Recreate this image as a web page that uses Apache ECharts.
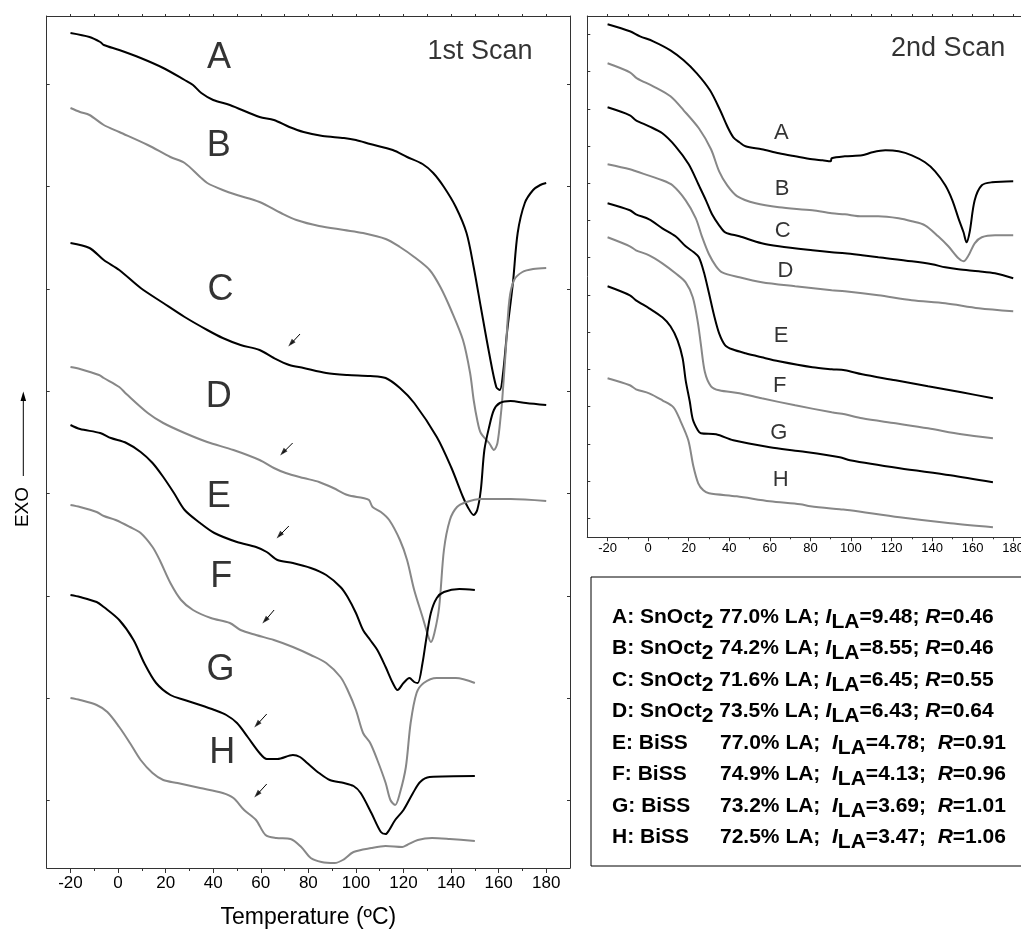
<!DOCTYPE html>
<html><head><meta charset="utf-8">
<script src="https://cdn.jsdelivr.net/npm/echarts@6/dist/echarts.min.js"></script>
<style>html,body{margin:0;padding:0;background:#fff}#c{width:1021px;height:933px}</style>
</head><body><div id="c"></div>
<script>
// ---------- DATA (temperature in ºC, heat flow in arbitrary units) ----------
// 1st scan (left panel)
const scan1A = [[-20,83.5],[-12,83.1],[-7.5,82.6],[-6,82.3],[0.5,81.8],[9.5,81.0],[19,80.0],[28,78.8],[31.5,78.3],[35,77.5],[40,76.8],[47,76.3],[59.5,75.1],[65.5,74.8],[72,74.1],[78,73.6],[86,73.2],[95,73.0],[100,72.8],[106,72.4],[115.5,71.8],[121.5,71.1],[128,70.4],[132.5,69.5],[137,68.1],[142,66.1],[146.5,63.5],[149.5,60.1],[152.5,56.1],[156,51.5],[159,48.1],[160.5,47.8],[162,49.8],[163.5,53.5],[166,58.5],[168,63.5],[171,66.5],[174.5,67.8],[177.5,68.3],[180,68.5]];
const scan1B = [[-20,76.0],[-16,75.6],[-12,75.3],[-6,74.3],[0.5,73.6],[12.5,72.3],[22,71.1],[28,70.5],[34.5,69.1],[37.5,68.5],[44,67.8],[50,67.3],[59.5,66.6],[68.5,65.5],[75,64.8],[84.5,64.2],[95,63.8],[103,63.5],[112.5,62.9],[118.5,62.1],[124.5,61.1],[131,59.8],[135.5,58.1],[140,55.8],[145,52.8],[148,49.5],[149.5,46.8],[151,44.8],[152.5,43.5],[156,42.5],[158,41.8],[159.5,42.5],[161,45.5],[161.5,46.8],[163,51.8],[164.5,56.8],[166.5,58.8],[170,59.6],[174.5,59.9],[180,60.0]];
const scan1C = [[-20,62.5],[-12,62.0],[-6,60.8],[0.5,59.8],[9.5,58.0],[19,56.5],[28,55.1],[37.5,53.8],[44,53.0],[51.5,52.3],[59.5,51.8],[65.5,51.0],[72,50.3],[78,50.0],[87.5,49.5],[96.5,49.3],[106,49.2],[112.5,49.0],[118.5,48.0],[124.5,46.5],[134,43.1],[140,40.1],[145,37.1],[147,36.1],[149.5,35.3],[151,35.8],[152.5,37.8],[154,41.8],[156,44.1],[158,45.8],[160.5,46.5],[165,46.7],[171.5,46.5],[180,46.3]];
const scan1D = [[-20,50.1],[-16,49.9],[-8,49.3],[-6,49.0],[0.5,48.1],[3.5,47.4],[12.5,45.5],[19,44.5],[28,43.5],[37.5,42.6],[48.5,41.8],[59.5,40.8],[65.5,40.0],[70.5,39.5],[78,39.0],[84.5,38.6],[90.5,38.0],[96.5,37.3],[103,37.0],[105.5,36.8],[107,36.1],[110.5,35.6],[114,34.8],[118.5,32.8],[121.5,30.8],[124.5,27.8],[128,25.1],[130,23.5],[131.5,22.6],[133,23.5],[135,26.1],[137,31.8],[139.5,34.8],[142.5,36.1],[146.5,36.6],[152.5,36.9],[165,36.9],[180,36.7]];
const scan1E = [[-20,44.3],[-16,43.9],[-7.5,43.5],[-3,43.0],[3.5,42.5],[9.5,41.6],[14.5,40.5],[19,39.1],[23.5,37.5],[28,35.8],[34.5,34.5],[40.5,33.5],[50,32.6],[58,32.1],[62.5,31.6],[67,30.8],[73.5,30.5],[81,30.0],[87.5,29.3],[93.5,28.1],[96.5,27.1],[100,25.5],[103,23.8],[106,22.8],[109,21.8],[112.5,20.1],[115.5,18.5],[117.5,17.8],[120,18.5],[122.5,19.0],[124.5,18.6],[126,18.5],[128,20.5],[129.5,22.8],[131.5,25.5],[134,27.0],[137,27.6],[143.5,27.9],[150,27.8]];
const scan1F = [[-20,36.3],[-16,36.1],[-9,35.6],[-6,35.2],[-1,34.8],[5,34.1],[9.5,33.5],[14.5,32.1],[17.5,30.8],[22,28.5],[26.5,26.8],[31.5,25.8],[39,25.0],[47,24.5],[51.5,23.8],[58,23.3],[65.5,22.8],[73.5,22.1],[81,21.3],[87.5,20.5],[93.5,19.1],[96.5,17.8],[100,15.8],[103,13.5],[106,12.5],[109,10.8],[112.5,8.5],[114.5,6.8],[116.5,6.3],[118.5,7.5],[121,10.1],[123,14.5],[125.5,17.5],[128.5,18.5],[134,19.0],[142,19.0],[150,18.5]];
const scan1G = [[-20,27.3],[-16,27.1],[-9,26.6],[-6,26.1],[0.5,24.8],[6.5,22.8],[11,20.5],[16,18.5],[22,17.3],[28,16.8],[34.5,16.3],[40.5,15.8],[45.5,15.3],[50,14.5],[54.5,13.1],[59.5,11.5],[62.5,10.9],[67,10.9],[73.5,11.3],[76.5,11.1],[79.5,10.5],[84.5,9.5],[89,8.8],[95,8.5],[99,8.2],[102,7.5],[106.5,5.5],[110.5,3.6],[112.5,3.4],[114,3.8],[116.5,4.8],[120,5.8],[124,7.5],[127,8.6],[131,9.1],[150,9.2]];
const scan1H = [[-20,17.0],[-16,16.8],[-9,16.3],[-4.5,15.6],[0.5,14.1],[5,12.5],[9.5,10.8],[14.5,9.5],[19,8.8],[25,8.5],[34.5,8.0],[44,7.5],[48.5,7.0],[53,5.8],[58,4.8],[62,3.3],[66.5,3.0],[72.5,2.9],[77,2.1],[81,1.0],[85.5,0.6],[91,0.5],[94.5,0.8],[99,1.6],[106.5,2.0],[112.5,2.2],[119.5,2.1],[121.5,2.3],[126,2.8],[132,3.0],[139.5,2.9],[150,2.7]];
// 2nd scan (right panel)
const scan2A = [[-20,51.3],[-9,50.6],[-4,50.1],[2.5,49.6],[11,48.7],[17.5,47.7],[24,46.4],[30.5,44.7],[35.5,42.7],[39,41.1],[42,40.0],[45,39.5],[48,39.1],[56,38.8],[64.5,38.4],[72.5,38.1],[81,37.8],[86,37.7],[90,37.6],[90.5,37.9],[97,38.1],[105.5,38.2],[110.5,38.5],[117,38.7],[123.5,38.6],[130,38.2],[136.5,37.5],[141.5,36.6],[146.5,35.2],[150,33.7],[153,31.9],[155.5,30.5],[157,29.5],[158.5,30.5],[161,33.7],[164.5,35.2],[169.5,35.5],[180,35.6]];
const scan2B = [[-20,47.4],[-9,46.5],[-5.5,45.9],[2.5,45.1],[11,44.1],[17.5,42.7],[25,40.9],[31,38.8],[35,36.6],[39,35.2],[44,34.1],[53,33.4],[64.5,33.0],[81,32.7],[90.5,32.4],[97,32.3],[105.5,32.1],[113.5,32.1],[123.5,31.9],[130,31.6],[136.5,31.2],[143,30.1],[148,29.1],[153,27.9],[155.5,27.6],[158,28.2],[161,29.4],[164.5,30.0],[171,30.2],[180,30.2]];
const scan2C = [[-20,43.0],[-9,42.2],[-6,41.7],[0.5,41.1],[7,40.4],[13.5,39.1],[20,37.3],[25,35.2],[28.5,33.7],[31.5,32.3],[35,31.2],[38,30.5],[45,30.1],[56,29.4],[64.5,29.1],[81,28.7],[90.5,28.5],[97,28.4],[105.5,28.2],[113.5,28.0],[130,27.6],[140,27.3],[146.5,27.0],[153,26.8],[163,26.6],[171,26.4],[180,25.9]];
const scan2D = [[-20,37.3],[-9,36.8],[-6,36.6],[7,35.7],[12,35.2],[18.5,33.7],[23.5,31.9],[26.5,30.1],[30,28.3],[33.5,27.1],[36.5,26.5],[45,26.0],[56,25.5],[72.5,25.1],[90.5,24.7],[97,24.6],[113.5,24.2],[130,23.7],[146.5,23.4],[163,22.9],[180,22.6]];
const scan2E = [[-20,33.4],[-9,32.7],[-6,32.3],[0.5,31.8],[7,30.9],[13.5,30.1],[18.5,29.1],[22.5,28.5],[25,28.0],[27.5,26.5],[30,24.4],[32.5,22.2],[35,20.4],[38,19.2],[41.5,18.8],[48,18.4],[56,18.0],[64.5,17.6],[81,17.0],[90.5,16.8],[97,16.7],[105.5,16.3],[122,15.7],[138,15.1],[154.5,14.5],[170,13.9]];
const scan2F = [[-20,30.0],[-9,29.1],[-6,28.7],[0.5,28.2],[7,27.4],[13.5,26.4],[18.5,25.5],[22,24.0],[24.5,21.5],[26,19.3],[28,16.5],[31,15.1],[35,14.7],[45,14.4],[56,13.9],[72.5,13.2],[90.5,12.5],[97,12.3],[105.5,11.9],[122,11.4],[138,10.9],[154.5,10.3],[170,9.9]];
const scan2G = [[-20,25.1],[-9,24.2],[-6,23.7],[0.5,22.9],[7,22.0],[11,21.1],[14.5,19.7],[17,17.9],[18.5,15.7],[20.5,13.6],[22,11.8],[24.5,10.7],[26,10.4],[33.5,10.3],[42,9.7],[60,9.0],[75,8.6],[94.5,8.0],[99.5,7.7],[124,6.9],[149,6.2],[170,5.5]];
const scan2H = [[-20,15.9],[-9,15.2],[-6,14.8],[0.5,14.4],[7,13.7],[12.5,13.0],[16,11.6],[19.8,9.7],[22.3,7.1],[24.7,5.4],[27.2,4.7],[30,4.4],[43.7,4.1],[60,3.6],[75,3.3],[80,3.1],[94.5,2.8],[99.5,2.7],[124,2.0],[149,1.4],[170,1.0]];

// curve labels [text, temperature, heat flow]
const labels1 = [['A',42.4,81.0],['B',42.3,72.2],['C',43.1,57.8],['D',42.3,47.1],['E',42.3,37.1],['F',43.4,29.1],['G',43.1,19.8],['H',43.8,11.5]];
const labels2 = [['A',65.7,40.4],['B',66.1,34.8],['C',66.4,30.6],['D',67.7,26.6],['E',65.6,20.1],['F',64.9,15.1],['G',64.4,10.4],['H',65.4,5.7]];
const panelTitle1 = ['1st Scan',152.2,81.6];
const panelTitle2 = ['2nd Scan',147.9,48.9];
// arrows in 1st scan [fromT, fromY, toT, toY]
const arrows1 = [[76.5,53.4,71.8,52.2],[73.4,42.5,68.4,41.3],[71.8,34.2,66.9,33.0],[65.6,25.8,60.9,24.5],[62.5,15.4,57.5,14.1],[62.5,8.4,57.5,7.1]];

// axis ticks
const xMajor = [-20,0,20,40,60,80,100,120,140,160,180];
const xMinor = [-10,10,30,50,70,90,110,130,150,170];
const xAll = [-20,-10,0,10,20,30,40,50,60,70,80,90,100,110,120,130,140,150,160,170,180];
const yTicks1 = [6.76,16.99,27.22,37.45,47.68,57.91,68.14,78.37];
const yTicks2 = [1.9,5.62,9.35,13.07,16.79,20.52,24.24,27.96,31.69,35.41,39.13,42.85,46.58,50.3];

// legend table
const sampleIds = ['A','B','C','D','E','F','G','H'];
const catalysts = ['SnOct2','SnOct2','SnOct2','SnOct2','BiSS','BiSS','BiSS','BiSS'];
const laContent = ['77.0','74.2','71.6','73.5','77.0','74.9','73.2','72.5'];
const iLA = ['9.48','8.55','6.45','6.43','4.78','4.13','3.69','3.47'];
const rValues = ['0.46','0.46','0.55','0.64','0.91','0.96','1.01','1.06'];

// ---------- CHART ----------
const FONT = '"Liberation Sans", Arial, Helvetica, sans-serif';
const BLACK = '#000', GRAY = '#878787', AX = '#333';
const chart = echarts.init(document.getElementById('c'));

const G0 = {left: 46.7, top: 16, width: 523.3, height: 852, outerBoundsMode: 'none', containLabel: false};
const G1 = {left: 587.3, top: 16, width: 446.2, height: 521.3, outerBoundsMode: 'none', containLabel: false};

function xAx(grid, pos, opt) {
  return Object.assign({
    gridIndex: grid, type: 'value', min: -30, max: 190, position: pos,
    axisLine: {show: true, onZero: false, lineStyle: {color: AX, width: 1}},
    axisTick: {show: false}, axisLabel: {show: false}, splitLine: {show: false}
  }, opt);
}
function yAx(grid, pos, max, ticks) {
  return {
    gridIndex: grid, type: 'value', min: 0, max: max, position: pos,
    axisLine: {show: true, onZero: false, lineStyle: {color: AX, width: 1}},
    axisTick: {show: true, inside: true, length: 3, customValues: ticks, lineStyle: {color: AX}},
    axisLabel: {show: false}, splitLine: {show: false}
  };
}

const xAxis = [
  xAx(0, 'bottom', {
    axisTick: {show: true, length: 5, customValues: xMajor, lineStyle: {color: AX}},
    axisLabel: {show: true, customValues: xMajor, fontSize: 17, color: '#000', fontFamily: FONT, margin: 7},
    name: 'Temperature (ºC)', nameLocation: 'middle', nameGap: 38,
    nameTextStyle: {fontSize: 23, color: '#000', fontFamily: FONT}
  }),
  xAx(0, 'top', {axisTick: {show: true, length: 2, customValues: xAll, lineStyle: {color: AX}}}),
  xAx(2, 'bottom', {axisLine: {show: false}, axisTick: {show: true, length: 3, customValues: xMinor, lineStyle: {color: AX}}}),
  xAx(1, 'bottom', {
    axisTick: {show: true, length: 4, customValues: xMajor, lineStyle: {color: AX}},
    axisLabel: {show: true, customValues: xMajor, fontSize: 13, color: '#000', fontFamily: FONT, margin: 5}
  }),
  xAx(1, 'top', {axisTick: {show: true, length: 2, customValues: xAll, lineStyle: {color: AX}}}),
  xAx(3, 'bottom', {axisLine: {show: false}, axisTick: {show: true, length: 2, customValues: xMinor, lineStyle: {color: AX}}})
];
const yAxis = [
  yAx(0, 'left', 85.2, yTicks1),
  yAx(0, 'right', 85.2, yTicks1),
  yAx(1, 'left', 52.13, yTicks2),
  yAx(1, 'right', 52.13, yTicks2),
  {gridIndex: 2, type: 'value', min: 0, max: 1, show: false},
  {gridIndex: 3, type: 'value', min: 0, max: 1, show: false}
];

const colors = [BLACK, GRAY, BLACK, GRAY, BLACK, GRAY, BLACK, GRAY];
const series = [];
[scan1A, scan1B, scan1C, scan1D, scan1E, scan1F, scan1G, scan1H].forEach((d, i) => series.push({
  type: 'line', xAxisIndex: 0, yAxisIndex: 0, data: d, showSymbol: false, smooth: 0.3,
  lineStyle: {color: colors[i], width: 2}, silent: true, animation: false, z: 3
}));
[scan2A, scan2B, scan2C, scan2D, scan2E, scan2F, scan2G, scan2H].forEach((d, i) => series.push({
  type: 'line', xAxisIndex: 3, yAxisIndex: 2, data: d, showSymbol: false, smooth: 0.3,
  lineStyle: {color: colors[i], width: 2}, silent: true, animation: false, z: 3
}));
function labelSeries(xi, yi, items, size) {
  return {
    type: 'scatter', xAxisIndex: xi, yAxisIndex: yi, symbol: 'circle', symbolSize: 1, silent: true, animation: false,
    itemStyle: {color: 'rgba(0,0,0,0)'},
    data: items.map(l => ({name: l[0], value: [l[1], l[2]]})),
    label: {show: true, position: 'inside', formatter: '{b}', fontSize: size, color: '#000', fontFamily: FONT, textBorderWidth: 0},
    labelLayout: {hideOverlap: false}, z: 5
  };
}
series.push(labelSeries(0, 0, labels1, 36));
series.push(labelSeries(3, 2, labels2, 22));
series.push(labelSeries(0, 0, [panelTitle1], 27));
series.push(labelSeries(3, 2, [panelTitle2], 27));
// arrows: shaft via markLine, head via rotated triangle symbols
series.push({
  type: 'line', xAxisIndex: 0, yAxisIndex: 0, data: [], silent: true, animation: false,
  markLine: {
    silent: true, animation: false, symbol: ['none', 'none'],
    lineStyle: {color: '#000', width: 1, type: 'solid'}, label: {show: false},
    data: arrows1.map(a => [{coord: [a[0], a[1]]}, {coord: [a[2] + 0.8, a[3] + 0.2]}])
  }
});
series.push({
  type: 'scatter', xAxisIndex: 0, yAxisIndex: 0, silent: true, animation: false,
  symbol: 'triangle', symbolSize: [5, 8], symbolRotate: 137,
  itemStyle: {color: '#000'},
  data: arrows1.map(a => [a[2] + 0.9, a[3] + 0.25]), z: 6
});

// legend box text
const legendText = sampleIds.map((id, i) => {
  const cat = catalysts[i];
  if (/\d$/.test(cat)) {
    return `{b|${id}: ${cat.slice(0, -1)}}{s|${cat.slice(-1)}}{b| ${laContent[i]}% LA; }{i|I}{s|LA}{b|=${iLA[i]}; }{i|R}{b|=${rValues[i]}}`;
  }
  return `{c|${id}: ${cat}}{b|${laContent[i]}% LA;  }{i|I}{s|LA}{b|=${iLA[i]};  }{i|R}{b|=${rValues[i]}}`;
}).join('\n');
const LH = 31.5;
const base = {fontFamily: FONT, fontWeight: 'bold', fontSize: 21, fill: '#000', lineHeight: LH};

chart.setOption({
  animation: false,
  backgroundColor: '#fff',
  grid: [
    Object.assign({}, G0), Object.assign({}, G1), Object.assign({}, G0), Object.assign({}, G1)
  ],
  xAxis: xAxis,
  yAxis: yAxis,
  series: series,
  graphic: [
    {type: 'rect', shape: {x: 591, y: 577, width: 460, height: 289}, style: {fill: '#fff', stroke: '#000', lineWidth: 1}, z: 10},
    {type: 'text', x: 612, y: 601, z: 11, style: {
      text: legendText, lineHeight: LH, fontFamily: FONT, fontWeight: 'bold', fontSize: 21, fill: '#000',
      rich: {
        b: Object.assign({}, base, {verticalAlign: 'middle'}),
        c: Object.assign({}, base, {verticalAlign: 'middle', width: 108}),
        s: Object.assign({}, base, {verticalAlign: 'bottom'}),
        i: Object.assign({}, base, {verticalAlign: 'middle', fontStyle: 'italic'})
      }
    }},
    {type: 'line', shape: {x1: 23.3, y1: 476, x2: 23.3, y2: 399}, style: {stroke: '#000', lineWidth: 1}, z: 10},
    {type: 'polygon', shape: {points: [[23.3, 391.5], [20.5, 401], [26.1, 401]]}, style: {fill: '#000'}, z: 10},
    {type: 'text', x: 23, y: 507, rotation: Math.PI / 2, z: 10, style: {
      text: 'EXO', fontSize: 19, fontFamily: FONT, fill: '#000', align: 'center', verticalAlign: 'middle'
    }}
  ]
});
</script>
</body></html>
